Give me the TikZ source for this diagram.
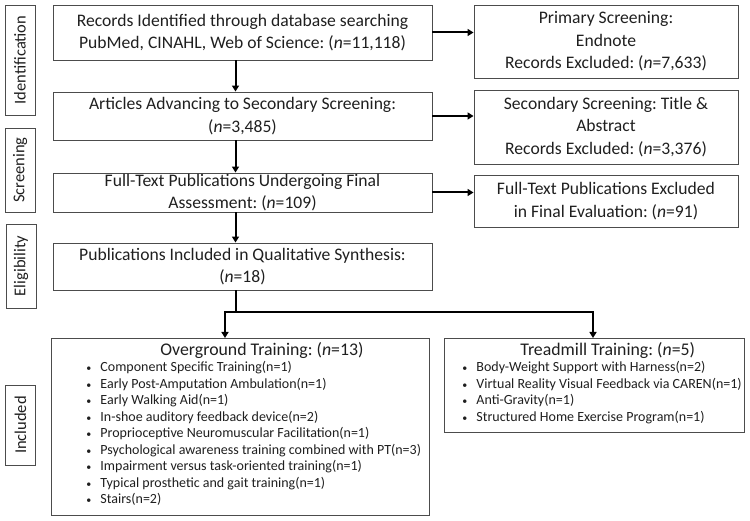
\documentclass[tikz,border=0pt]{standalone}
\usepackage{fontspec}
\setmainfont{Carlito}
\usetikzlibrary{arrows.meta}
\frenchspacing
\newcommand\bitem[2]{\hspace*{#1}\makebox[14pt][l]{\fontsize{10}{10}\selectfont\textbullet}\mbox{#2}\par}
\begin{document}
\begin{tikzpicture}[x=1pt,y=-1pt,
 box/.style={draw=black!70, line width=0.9pt, inner sep=0pt, align=center, text=black!88, font=\fontsize{17.6}{22.5}\selectfont},
 listbox/.style={draw=black!70, line width=0.9pt, inner sep=0pt, anchor=north west, text=black!88},
 side/.style={draw=black!70, line width=0.9pt, inner sep=0pt, rotate=90, minimum height=30pt, text=black!88, font=\fontsize{16.5}{20}\selectfont},
 arr/.style={line width=2pt, -{Triangle[length=6pt,width=7pt]}},
 conn/.style={line width=2pt}]
\useasboundingbox (0,0) rectangle (750,521);

% side labels
\node[side, minimum width=110pt] (lid) at (20,60) {Identification};
\node[side, minimum width=84pt] (lscr) at (20,170) {Screening};
\node[side, minimum width=84pt] (lelig) at (21,266) {Eligibility};
\node[side, minimum width=80pt] (lincl) at (20.5,425) {Included};

% main column
\node[box, minimum width=379pt, minimum height=55pt] (b1) at (242.5,32.5)
 {Records Identified through database searching\\PubMed, CINAHL, Web of Science: (\textit{n}=11,118)};
\node[box, minimum width=379pt, minimum height=48pt] (b2) at (242.5,116)
 {Articles Advancing to Secondary Screening:\\(\textit{n}=3,485)};
\node[box, minimum width=379pt, minimum height=39pt] (b3) at (242.5,192.5)
 {Full-Text Publications Undergoing Final\\Assessment: (\textit{n}=109)};
\node[box, minimum width=379pt, minimum height=47pt] (b4) at (242.5,266.5)
 {Publications Included in Qualitative Synthesis:\\(\textit{n}=18)};

% right column
\node[box, minimum width=264pt, minimum height=73pt] (r1) at (606,41.5)
 {Primary Screening:\\Endnote\\Records Excluded: (\textit{n}=7,633)};
\node[box, minimum width=264pt, minimum height=74pt] (r2) at (606,127)
 {Secondary Screening: Title \&\\Abstract\\Records Excluded: (\textit{n}=3,376)};
\node[box, minimum width=264pt, minimum height=52pt] (r3) at (606,201)
 {Full-Text Publications Excluded\\in Final Evaluation: (\textit{n}=91)};

% included boxes
\node[listbox] (over) at (51,338) {\parbox[t][177pt][t]{378pt}{\raggedright\setlength\parindent{0pt}%
 \fontsize{17.8}{20}\selectfont\hspace*{109pt}\rule{0pt}{17pt}Overground Training: (\textit{n}=13)\par
 \fontsize{14}{16.5}\selectfont
 \bitem{35pt}{Component Specific Training(n=1)}
 \bitem{35pt}{Early Post-Amputation Ambulation(n=1)}
 \bitem{35pt}{Early Walking Aid(n=1)}
 \bitem{35pt}{In-shoe auditory feedback device(n=2)}
 \bitem{35pt}{Proprioceptive Neuromuscular Facilitation(n=1)}
 \bitem{35pt}{Psychological awareness training combined with PT(n=3)}
 \bitem{35pt}{Impairment versus task-oriented training(n=1)}
 \bitem{35pt}{Typical prosthetic and gait training(n=1)}
 \bitem{35pt}{Stairs(n=2)}}};
\node[listbox] (tread) at (444,338) {\parbox[t][94pt][t]{300pt}{\raggedright\setlength\parindent{0pt}%
 \fontsize{17.8}{20}\selectfont\hspace*{76pt}\rule{0pt}{17pt}Treadmill Training: (\textit{n}=5)\par
 \fontsize{14}{16.5}\selectfont
 \bitem{18pt}{Body-Weight Support with Harness(n=2)}
 \bitem{18pt}{Virtual Reality Visual Feedback via CAREN(n=1)}
 \bitem{18pt}{Anti-Gravity(n=1)}
 \bitem{18pt}{Structured Home Exercise Program(n=1)}}};

% vertical arrows
\draw[arr] ([xshift=-7pt]b1.south) -- ([xshift=-7pt]b2.north);
\draw[arr] ([xshift=-7pt]b2.south) -- ([xshift=-7pt]b3.north);
\draw[arr] ([xshift=-7pt]b3.south) -- ([xshift=-7pt]b4.north);

% horizontal arrows
\draw[arr] (b1.east) -- (b1.east -| r1.west);
\draw[arr] (b2.east) -- (b2.east -| r2.west);
\draw[arr] (b3.east) -- (b3.east -| r3.west);

% split
\coordinate (jm) at (236,312);
\coordinate (jl) at (225,312);
\coordinate (jr) at (593,312);
\draw[conn] (b4.south -| jm) -- (jm);
\draw[arr] (jm) -- (jl) -- (jl |- over.north);
\draw[arr] (jm) -- (jr) -- (jr |- tread.north);
\end{tikzpicture}
\end{document}
